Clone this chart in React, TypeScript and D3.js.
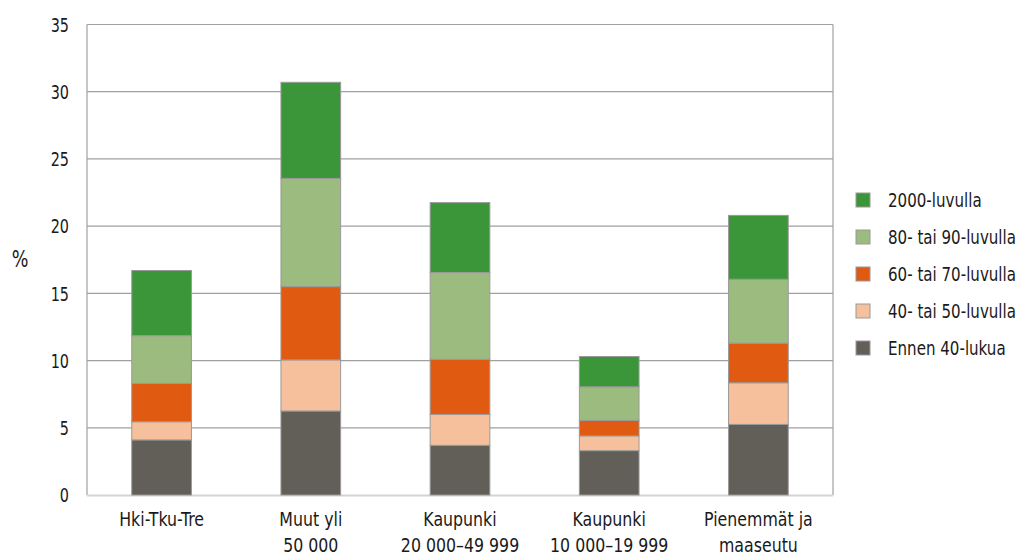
import React from "react";
import * as d3 from "d3";

const categories = [
  ["Hki-Tku-Tre"],
  ["Muut yli", "50 000"],
  ["Kaupunki", "20 000–49 999"],
  ["Kaupunki", "10 000–19 999"],
  ["Pienemmät ja", "maaseutu"],
];
const seriesNames = ["Ennen 40-lukua", "40- tai 50-luvulla", "60- tai 70-luvulla", "80- tai 90-luvulla", "2000-luvulla"];
const ennen = [4.1, 6.25, 3.7, 3.3, 5.25];
const s4050 = [1.35, 3.8, 2.3, 1.1, 3.1];
const s6070 = [2.85, 5.45, 4.1, 1.15, 2.95];
const s8090 = [3.55, 8.05, 6.45, 2.5, 4.75];
const s2000 = [4.85, 7.15, 5.2, 2.25, 4.75];
const yTicks = [0, 5, 10, 15, 20, 25, 30, 35];
const colors = ["#625e58", "#f5c09b", "#e05a12", "#9bbb7f", "#3a9639"];

const FONT = "'DejaVu Sans Condensed', 'Liberation Sans Narrow', 'Roboto', sans-serif";

export default function App() {
  const W = 1025, H = 558;
  const left = 87, right = 833, top = 24.5, bottom = 495;
  const x = d3.scaleBand<number>().domain(categories.map((_, i) => i)).range([left, right]).paddingInner(0.6).paddingOuter(0.3);
  const y = d3.scaleLinear().domain([0, 35]).range([bottom, top]);
  const table = categories.map((_, i) => ({
    i, s0: ennen[i], s1: s4050[i], s2: s6070[i], s3: s8090[i], s4: s2000[i],
  }));
  const stack = d3.stack<any>().keys(["s0", "s1", "s2", "s3", "s4"])(table);
  const legendOrder = [4, 3, 2, 1, 0];

  return (
    <svg width={W} height={H} style={{ position: "absolute", left: 0, top: 0, background: "#fff" }} fontFamily={FONT}>
      {yTicks.filter(t => t > 0).map(t => (
        <line key={t} x1={left} x2={right} y1={y(t)} y2={y(t)} stroke="#a0a0a0" strokeWidth={1.2} />
      ))}
      <line x1={left} x2={left} y1={top} y2={bottom} stroke="#a0a0a0" strokeWidth={1.2} />
      <line x1={right} x2={right} y1={top} y2={bottom} stroke="#a0a0a0" strokeWidth={1.2} />
      <line x1={left} x2={right} y1={bottom + 0.5} y2={bottom + 0.5} stroke="#d4d4d4" strokeWidth={2} />
      {yTicks.map(t => (
        <g key={t} transform={`translate(69, ${y(t)}) scale(0.8, 1)`}>
          <text x={0} y={0} dy="0.36em" textAnchor="end" fontSize={20} fill="#1a1a1a">{t}</text>
        </g>
      ))}
      <g transform="translate(20, 259) scale(0.85, 1)">
        <text x={0} y={0} dy="0.36em" textAnchor="middle" fontSize={23} fill="#1a1a1a">%</text>
      </g>
      {stack.map((layer, k) => layer.map((d, i) => (
        <rect key={k + "-" + i} x={x(i)!} width={x.bandwidth()} y={y(d[1])} height={y(d[0]) - y(d[1])}
          fill={colors[k]} stroke="#999" strokeWidth={1} />
      )))}
      {categories.map((lines, i) =>
        lines.map((l, j) => (
          <g key={i + "-" + j} transform={`translate(${x(i)! + x.bandwidth() / 2}, ${518.5 + j * 26}) scale(0.9, 1)`}>
            <text x={0} y={0} dy="0.36em" textAnchor="middle" fontSize={19.5} fill="#1a1a1a">{l}</text>
          </g>
        ))
      )}
      {legendOrder.map((k, r) => (
        <g key={k} transform={`translate(856, ${200 + r * 37})`}>
          <rect x={0} y={-7} width={14} height={14} fill={colors[k]} stroke="#999" strokeWidth={1} />
          <g transform="translate(32, 0) scale(0.86, 1)">
            <text x={0} y={0} dy="0.36em" fontSize={19.5} fill="#1a1a1a">{seriesNames[k]}</text>
          </g>
        </g>
      ))}
    </svg>
  );
}
